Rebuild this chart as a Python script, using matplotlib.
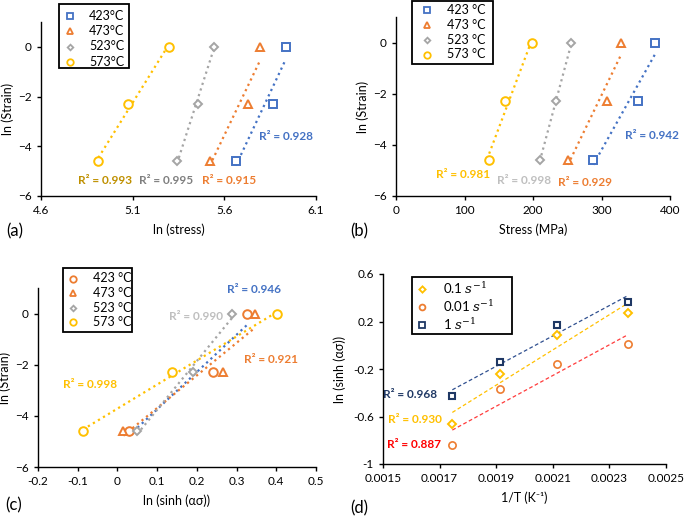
import numpy as np
import matplotlib
matplotlib.use('Agg')
import matplotlib.pyplot as plt
from matplotlib.lines import Line2D
from matplotlib.patches import Rectangle

plt.rcParams['font.family'] = ['Lato', 'DejaVu Sans']
plt.rcParams['font.size'] = 8.5
plt.rcParams['mathtext.fontset'] = 'dejavuserif'
plt.rcParams['axes.linewidth'] = 1.0
plt.rcParams['xtick.direction'] = 'out'
plt.rcParams['ytick.direction'] = 'out'
plt.rcParams['xtick.major.size'] = 3
plt.rcParams['ytick.major.size'] = 3

# ---- data ----
temps_a = ['423°C', '473°C', '523°C', '573°C']
temps = ['423 °C', '473 °C', '523 °C', '573 °C']
ln_strain = [0.0, -2.3, -4.6]

# (a) ln(stress)
ln_stress = {
    '423': [5.935, 5.864, 5.663],
    '473': [5.793, 5.730, 5.521],
    '523': [5.541, 5.455, 5.342],
    '573': [5.298, 5.075, 4.913],
}
r2_a = ['0.928', '0.915', '0.995', '0.993']

# (b) stress in MPa
stress = {
    '423': [378, 353, 288],
    '473': [328, 308, 251],
    '523': [256, 234, 210],
    '573': [199, 159, 136],
}
r2_b = ['0.942', '0.929', '0.998', '0.981']

# (c) ln(sinh(alpha*sigma))
ln_sinh = {
    '423': [0.327, 0.241, 0.029],
    '473': [0.347, 0.266, 0.015],
    '523': [0.289, 0.191, 0.050],
    '573': [0.401, 0.138, -0.087],
}
r2_c = ['0.946', '0.921', '0.990', '0.998']

# (d) ln(sinh) vs 1/T
inv_T = [0.001745, 0.001912, 0.002114, 0.002364]
rates = ['0.1 $s^{-1}$', '0.01 $s^{-1}$', '1 $s^{-1}$']
d_01 = [-0.665, -0.241, 0.088, 0.268]
d_001 = [-0.840, -0.367, -0.162, 0.007]
d_1 = [-0.424, -0.137, 0.173, 0.364]
r2_d = ['0.930', '0.887', '0.968']

keys = ['423', '473', '523', '573']
blue, orange, grey, yellow = '#4472c4', '#ed7d31', '#a5a5a5', '#ffc000'
navy, red = '#1f3864', '#ff3b3b'
cols = [blue, orange, grey, yellow]
marks = ['s', '^', 'D', 'o']
msz = [5.6, 6.2, 3.8, 6.2]

fig = plt.figure(figsize=(6.85, 5.18), dpi=100)
W, H = 685, 518


def add_axes(l, r, t, b):
    return fig.add_axes([l / W, 1 - b / H, (r - l) / W, (b - t) / H])


def style(ax):
    for s in ['top', 'right']:
        ax.spines[s].set_visible(False)
    ax.tick_params(colors='black', labelsize=8.5, width=1.0)


def trend(ax, x, y, color, ls=':', lw=1.6):
    x = np.asarray(x, float)
    k, b = np.polyfit(x, y, 1)
    xs = np.array([x.min(), x.max()])
    ax.plot(xs, k * xs + b, color=color, ls=ls, lw=lw, zorder=2)


def legend_box(box, mx, tx, rows, handles, labels, fs=9):
    # box = (left, top, right, bottom) in pixels; drawn in figure coords
    l, t, r, b = box
    fig.add_artist(Rectangle((l / W, 1 - b / H), (r - l) / W, (b - t) / H,
                             transform=fig.transFigure, facecolor='white',
                             edgecolor='black', lw=1.3, zorder=5))
    for y, (m, c, s), lab in zip(rows, handles, labels):
        fig.add_artist(Line2D([mx / W], [1 - y / H], transform=fig.transFigure,
                              marker=m, ms=s, mfc='white', mec=c, mew=1.3,
                              ls='none', zorder=6))
        fig.text(tx / W, 1 - y / H, lab, fontsize=fs, va='center', ha='left',
                 zorder=6)


kw = dict(fontsize=8.5, fontweight='bold', ha='center', va='center')

# ---- (a) ----
ax = add_axes(41, 316, 22, 196)
for k, c, m, s in zip(keys, cols, marks, msz):
    trend(ax, ln_stress[k], ln_strain, c)
    ax.plot(ln_stress[k], ln_strain, ls='none', marker=m, ms=s, mfc='white',
            mec=c, mew=1.4, zorder=3)
ax.set_xlim(4.6, 6.1)
ax.set_ylim(-6, 1)
ax.set_xticks([4.6, 5.1, 5.6, 6.1])
ax.set_xticklabels(['4.6', '5.1', '5.6', '6.1'])
ax.set_yticks([-6, -4, -2, 0])
style(ax)
ax.set_xlabel('ln (stress)', fontsize=9, labelpad=5)
ax.set_ylabel('ln (Strain)', fontsize=9, labelpad=3)
leg_h = [(m, c, s * 0.75) for m, c, s in zip(marks, cols, msz)]
legend_box((59, 4, 129, 68), 70, 89, [15.5, 31, 46.5, 61.5], leg_h, temps_a)
ax.text(5.936, -3.6, 'R² = ' + r2_a[0], color=blue, **kw)
ax.text(5.625, -5.36, 'R² = ' + r2_a[1], color=orange, **kw)
ax.text(5.28, -5.36, 'R² = ' + r2_a[2], color='#7f7f7f', **kw)
ax.text(4.949, -5.36, 'R² = ' + r2_a[3], color='#bf9000', **kw)
fig.text(6 / W, 1 - 231 / H, '(a)', fontsize=12, va='center')

# ---- (b) ----
ax = add_axes(396, 670, 17, 196)
for k, c, m, s in zip(keys, cols, marks, msz):
    trend(ax, stress[k], ln_strain, c)
    ax.plot(stress[k], ln_strain, ls='none', marker=m, ms=s, mfc='white',
            mec=c, mew=1.4, zorder=3)
ax.set_xlim(0, 400)
ax.set_ylim(-6, 1)
ax.set_xticks([0, 100, 200, 300, 400])
ax.set_yticks([-6, -4, -2, 0])
style(ax)
ax.set_xlabel('Stress (MPa)', fontsize=9, labelpad=5)
ax.set_ylabel('ln (Strain)', fontsize=9, labelpad=3)
legend_box((412, 1, 493, 64), 427, 447, [9.5, 25, 40, 54.5], leg_h, temps)
ax.text(374, -3.62, 'R² = ' + r2_b[0], color=blue, **kw)
ax.text(276, -5.46, 'R² = ' + r2_b[1], color=orange, **kw)
ax.text(187, -5.38, 'R² = ' + r2_b[2], color='#bfbfbf', **kw)
ax.text(98, -5.14, 'R² = ' + r2_b[3], color=yellow, **kw)
fig.text(350 / W, 1 - 231 / H, '(b)', fontsize=12, va='center')

# ---- (c) ----
ax = add_axes(38, 316, 288, 467)
c_marks = ['o', '^', 'D', 'o']
c_mcols = [orange, orange, grey, yellow]
c_lcols = [blue, orange, grey, yellow]
c_msz = [6.2, 6.2, 3.8, 6.2]
for k, lc in zip(keys, c_lcols):
    trend(ax, ln_sinh[k], ln_strain, lc)
for k, c, m, s in zip(keys, c_mcols, c_marks, c_msz):
    ax.plot(ln_sinh[k], ln_strain, ls='none', marker=m, ms=s, mfc='white',
            mec=c, mew=1.4, zorder=3)
ax.set_xlim(-0.2, 0.5)
ax.set_ylim(-6, 1)
ax.set_xticks([-0.2, -0.1, 0, 0.1, 0.2, 0.3, 0.4, 0.5])
ax.set_xticklabels(['-0.2', '-0.1', '0', '0.1', '0.2', '0.3', '0.4', '0.5'])
ax.set_yticks([-6, -4, -2, 0])
style(ax)
ax.set_xlabel('ln (sinh (ασ))', fontsize=9, labelpad=5)
ax.set_ylabel('ln (Strain)', fontsize=9, labelpad=3)
leg_c = [(m, c, s * 0.75) for m, c, s in zip(c_marks, c_mcols, c_msz)]
legend_box((63, 268, 132, 332), 73, 93, [278.5, 293, 307.5, 322], leg_c, temps)
ax.text(0.345, 0.95, 'R² = ' + r2_c[0], color=blue, **kw)
ax.text(0.387, -1.78, 'R² = ' + r2_c[1], color=orange, **kw)
ax.text(0.1975, -0.10, 'R² = ' + r2_c[2], color='#bfbfbf', **kw)
ax.text(-0.070, -2.77, 'R² = ' + r2_c[3], color=yellow, **kw)
fig.text(5 / W, 1 - 505 / H, '(c)', fontsize=12, va='center')

# ---- (d) ----
ax = add_axes(383, 666, 274, 464)
trend(ax, inv_T, d_1, '#2f4f8f', ls=(0, (3, 2)), lw=0.9)
trend(ax, inv_T, d_01, yellow, ls=(0, (3, 2)), lw=0.9)
trend(ax, inv_T, d_001, red, ls=(0, (3, 2)), lw=0.9)
ax.plot(inv_T, d_01, ls='none', marker='D', ms=3.8, mfc='white', mec=yellow, mew=1.4, zorder=3)
ax.plot(inv_T, d_001, ls='none', marker='o', ms=5.2, mfc='white', mec=orange, mew=1.2, zorder=3)
ax.plot(inv_T, d_1, ls='none', marker='s', ms=5.0, mfc='white', mec=navy, mew=1.5, zorder=3)
ax.set_xlim(0.0015, 0.0025)
ax.set_ylim(-1, 0.6)
ax.set_xticks([0.0015, 0.0017, 0.0019, 0.0021, 0.0023, 0.0025])
ax.set_xticklabels(['0.0015', '0.0017', '0.0019', '0.0021', '0.0023', '0.0025'])
ax.set_yticks([-1, -0.6, -0.2, 0.2, 0.6])
ax.set_yticklabels(['-1', '-0.6', '-0.2', '0.2', '0.6'])
style(ax)
ax.set_xlabel('1/T (K⁻¹)', fontsize=9, labelpad=5)
ax.set_ylabel('ln (sinh (ασ))', fontsize=9, labelpad=5)
leg_d = [('D', yellow, 3.2), ('o', orange, 4.2), ('s', navy, 4.0)]
legend_box((412, 277, 512, 334), 422, 443, [288.5, 306.5, 324.5], leg_d, rates, fs=9.5)
kwd = dict(fontsize=8.5, fontweight='bold', ha='right', va='center')
ax.text(0.001692, -0.412, 'R² = ' + r2_d[2], color=navy, **kwd)
ax.text(0.001709, -0.623, 'R² = ' + r2_d[0], color=yellow, **kwd)
ax.text(0.001706, -0.834, 'R² = ' + r2_d[1], color='#ff0000', **kwd)
fig.text(350 / W, 1 - 508 / H, '(d)', fontsize=12, va='center')

fig.savefig('out.png', dpi=100)
